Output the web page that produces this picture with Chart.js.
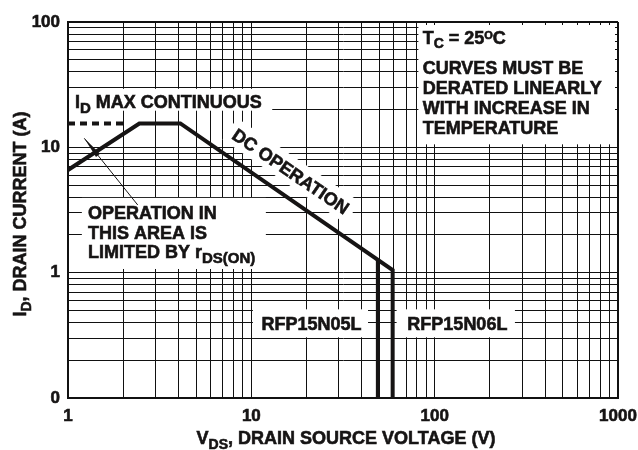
<!DOCTYPE html>
<html>
<head>
<meta charset="utf-8">
<script src="https://cdn.jsdelivr.net/npm/chart.js@4.4.1/dist/chart.umd.min.js"></script>
<style>
  html, body { margin: 0; padding: 0; background: #fff; }
</style>
</head>
<body>
<canvas id="soa" width="638" height="450"></canvas>
<script>
// Forward bias safe operating area - RFP15N05L / RFP15N06L
const vdsMain = [1, 2.45, 4.1, 59, 59];
const idMain = [6.6, 15.5, 15.5, 1.05, 0.1];
const vdsN05L = [49, 49];
const idN05L = [1.27, 0.1];
const vdsIdMax = [1, 2.05];
const idIdMax = [15.5, 15.5];

const xTickValues = [1, 10, 100, 1000];
const xTickLabels = ['1', '10', '100', '1000'];
const yTickValues = [0.1, 1, 10, 100];
const yTickLabels = ['0', '1', '10', '100'];

const INK = '#161414';
const GRID = '#111';
const FONT = '"Liberation Sans", Arial, Helvetica, sans-serif';

function toPoints(xs, ys) {
    return xs.map((x, i) => ({ x: x, y: ys[i] }));
}

function tickLabel(values, labels, v) {
    const i = values.findIndex(t => Math.abs(Math.log10(t) - Math.log10(v)) < 1e-6);
    return i < 0 ? '' : labels[i];
}

// 1..9 per decade, for the log paper grid
function logGrid(min, max) {
    const out = [];
    for (let d = min; d < max * 0.999; d *= 10) {
        for (let m = 1; m < 10; m++) out.push(+(m * d).toPrecision(6));
    }
    out.push(max);
    return out;
}

// parts: [text, size ratio, baseline shift ratio]
function drawRich(ctx, parts, x, y, size, align) {
    let w = 0;
    parts.forEach(p => {
        ctx.font = 'bold ' + Math.round(size * p[1]) + 'px ' + FONT;
        w += ctx.measureText(p[0]).width;
    });
    let cx = align === 'center' ? x - w / 2 : x;
    ctx.textAlign = 'left';
    ctx.textBaseline = 'alphabetic';
    ctx.strokeStyle = ctx.fillStyle;
    ctx.lineWidth = 0.6;
    parts.forEach(p => {
        ctx.font = 'bold ' + Math.round(size * p[1]) + 'px ' + FONT;
        ctx.fillText(p[0], cx, y + size * p[2]);
        ctx.strokeText(p[0], cx, y + size * p[2]);
        cx += ctx.measureText(p[0]).width;
    });
}

const soaDecor = {
    id: 'soaDecor',
    beforeDatasetsDraw(chart) {
        const ctx = chart.ctx, sx = chart.scales.x, sy = chart.scales.y;
        const px = v => sx.getPixelForValue(v), py = v => sy.getPixelForValue(v);
        ctx.save();
        ctx.fillStyle = '#fff';
        // white label backgrounds [x0, x1, y0, y1, insets l t r b]
        const boxes = [
            [1, 13, 19.6, 29.3, [1, 0, 0, 0]],
            [80, 1000, 10, 100, [1.5, 3, 3, 3]],
            [1.19, 12, 1.07, 3.95, [0, 0, 0, 0]],
            [10.2, 43.3, 0.305, 0.51, [0, 0, 0, 0]],
            [62, 274, 0.305, 0.51, [0, 0, 0, 0]]
        ];
        boxes.forEach(b => {
            const x0 = px(b[0]) + b[4][0], x1 = px(b[1]) - b[4][2];
            const y0 = py(b[3]) + b[4][1], y1 = py(b[2]) - b[4][3];
            ctx.fillRect(x0, y0, x1 - x0, y1 - y0);
        });
        // rotated box for DC OPERATION
        const ang = Math.atan((py(1) - py(10)) / (px(10) - px(1)));
        ctx.translate(px(16.5), py(6.5));
        ctx.rotate(ang);
        ctx.font = 'bold 18px ' + FONT;
        const w = ctx.measureText('DC OPERATION').width + 12;
        ctx.fillRect(-w / 2, -13, w, 26);
        ctx.restore();
    },
    afterDatasetsDraw(chart) {
        const ctx = chart.ctx, sx = chart.scales.x, sy = chart.scales.y;
        const px = v => sx.getPixelForValue(v), py = v => sy.getPixelForValue(v);
        ctx.save();
        ctx.fillStyle = INK;
        ctx.strokeStyle = INK;

        drawRich(ctx, [['I', 1, 0], ['D', 0.85, 0.28], [' MAX CONTINUOUS', 1, 0]], px(1.092), py(20.5), 18, 'left');

        const ox = px(1.285), oy = py(2.67);
        drawRich(ctx, [['OPERATION IN', 1, 0]], ox, oy, 18, 'left');
        drawRich(ctx, [['THIS AREA IS', 1, 0]], ox, oy + 19.5, 18, 'left');
        drawRich(ctx, [['LIMITED BY r', 1, 0], ['DS(ON)', 0.85, 0.25]], ox, oy + 39, 18, 'left');

        const tx = px(86);
        drawRich(ctx, [['T', 1, 0], ['C', 0.75, 0.25], [' = 25', 1, 0], ['O', 0.62, -0.28], ['C', 1, 0]], tx, py(66.8), 18, 'left');
        ['CURVES MUST BE', 'DERATED LINEARLY', 'WITH INCREASE IN', 'TEMPERATURE'].forEach((t, i) => {
            drawRich(ctx, [[t, 1, 0]], tx, py(38.2) + i * 20, 18, 'left');
        });

        drawRich(ctx, [['RFP15N05L', 1, 0]], px(21.3), py(0.4) + 7, 18, 'center');
        drawRich(ctx, [['RFP15N06L', 1, 0]], px(133), py(0.4) + 7, 18, 'center');

        // DC OPERATION along the power limit line
        const ang = Math.atan((py(1) - py(10)) / (px(10) - px(1)));
        ctx.save();
        ctx.translate(px(16.5), py(6.5));
        ctx.rotate(ang);
        drawRich(ctx, [['DC OPERATION', 1, 0]], 0, 7, 18, 'center');
        ctx.restore();

        // arrow pointing into the rDS(on) limited area
        const ax0 = px(2.4), ay0 = py(3.47), ax1 = px(1.227), ay1 = py(11.8);
        ctx.lineWidth = 1;
        ctx.beginPath();
        ctx.moveTo(ax0, ay0);
        ctx.lineTo(ax1, ay1);
        ctx.stroke();
        const a = Math.atan2(ay1 - ay0, ax1 - ax0);
        const L = 22, H = 2.6;
        const bx = ax1 - L * Math.cos(a), by = ay1 - L * Math.sin(a);
        ctx.beginPath();
        ctx.moveTo(ax1, ay1);
        ctx.lineTo(bx + H * Math.sin(a), by - H * Math.cos(a));
        ctx.lineTo(bx - H * Math.sin(a), by + H * Math.cos(a));
        ctx.closePath();
        ctx.fill();
        ctx.restore();
    },
    afterDraw(chart) {
        const ctx = chart.ctx;
        ctx.save();
        ctx.fillStyle = INK;
        drawRich(ctx, [['V', 1, 0], ['DS', 0.8, 0.28], [', DRAIN SOURCE VOLTAGE (V)', 1, 0]], 346, 444, 18, 'center');
        ctx.translate(25.5, 214);
        ctx.rotate(-Math.PI / 2);
        drawRich(ctx, [['I', 1, 0], ['D', 0.8, 0.28], [', DRAIN CURRENT (A)', 1, 0]], 0, 0, 18, 'center');
        ctx.restore();
    }
};

const tickFont = { family: FONT, size: 17, weight: 'bold' };

new Chart(document.getElementById('soa'), {
    type: 'scatter',
    data: {
        datasets: [
            {
                data: toPoints(vdsMain, idMain),
                borderColor: INK,
                borderWidth: 4,
                borderJoinStyle: 'miter',
                showLine: true,
                pointRadius: 0
            },
            {
                data: toPoints(vdsN05L, idN05L),
                borderColor: INK,
                borderWidth: 4,
                showLine: true,
                pointRadius: 0
            },
            {
                data: toPoints(vdsIdMax, idIdMax),
                borderColor: INK,
                borderWidth: 4,
                borderDash: [7, 5],
                showLine: true,
                pointRadius: 0
            }
        ]
    },
    options: {
        responsive: false,
        animation: false,
        devicePixelRatio: 1,
        layout: { padding: { top: 22, right: 20, left: 0, bottom: 0 } },
        plugins: {
            legend: { display: false },
            tooltip: { enabled: false }
        },
        scales: {
            x: {
                type: 'logarithmic',
                min: 1,
                max: 1000,
                afterBuildTicks: s => { s.ticks = logGrid(1, 1000).map(v => ({ value: v })); },
                afterFit: s => { s.height = 52; s.paddingLeft = 0; s.paddingRight = 0; },
                grid: { color: GRID, lineWidth: c => (c.tick && c.tick.value === 1000 ? 2 : 1), drawTicks: false },
                border: { display: true, color: GRID, width: 2 },
                ticks: {
                    autoSkip: false,
                    maxRotation: 0,
                    padding: 8,
                    color: INK,
                    textStrokeColor: INK,
                    textStrokeWidth: 0.6,
                    font: tickFont,
                    callback: v => tickLabel(xTickValues, xTickLabels, v)
                }
            },
            y: {
                type: 'logarithmic',
                min: 0.1,
                max: 100,
                afterBuildTicks: s => { s.ticks = logGrid(0.1, 100).map(v => ({ value: v })); },
                afterFit: s => { s.width = 68; s.paddingTop = 0; s.paddingBottom = 0; },
                grid: { color: GRID, lineWidth: c => (c.tick && c.tick.value === 100 ? 2 : 1), drawTicks: false },
                border: { display: true, color: GRID, width: 2 },
                ticks: {
                    autoSkip: false,
                    padding: 8,
                    color: INK,
                    textStrokeColor: INK,
                    textStrokeWidth: 0.6,
                    font: tickFont,
                    callback: v => tickLabel(yTickValues, yTickLabels, v)
                }
            }
        }
    },
    plugins: [soaDecor]
});
</script>
</body>
</html>
